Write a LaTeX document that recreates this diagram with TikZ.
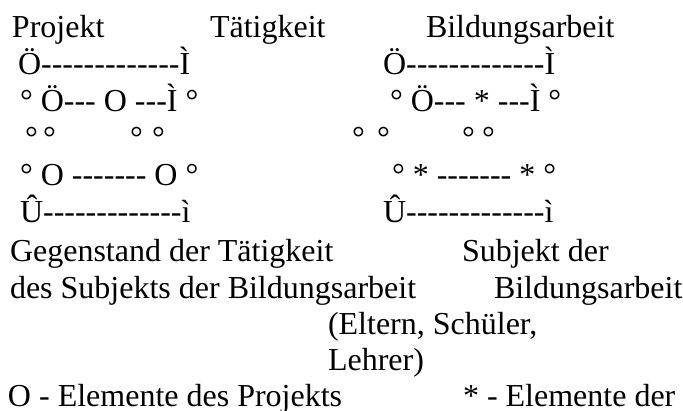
\documentclass[tikz,border=0pt]{standalone}
\usepackage{fontspec}
\setmainfont{Liberation Serif}
\usepackage{tikz}
\usetikzlibrary{positioning}

% Striche einzeln setzen (kein Gedankenstrich)
\newcommand{\striche}[1]{\foreach \s in {1,...,#1}{\mbox{-}}}

\begin{document}
\begin{tikzpicture}[x=1pt, y=-1pt,
    zeile/.style={anchor=base west, inner sep=0pt, outer sep=0pt},
    font=\fontsize{32}{37}\selectfont]
            % 1. Rahmen des Bildes
            \useasboundingbox (0,0) rectangle (683,410);

            % 2. Kopfzeile
            \node[zeile] (kopf-1) at (12,37) {Projekt};
            \node[zeile] (kopf-2) at (210,37) {Tätigkeit};
            \node[zeile] (kopf-3) at (426,37) {Bildungsarbeit};

            % 3. Linker Block (Projekt)
            \node[zeile] (l-1) at (18,74) {Ö\striche{13}Ì};
            \node[zeile] (l-2) at (20,111) {° Ö\striche{3} O \striche{3}Ì °};
            \node[zeile] (l-4) at (20,185) {° O \striche{7} O °};
            \node[zeile] (l-5) at (20,222) {Û\striche{13}ì};

            % 4. Rechter Block (Bildungsarbeit)
            \node[zeile] (r-1) at (383,74) {Ö\striche{13}Ì};
            \node[zeile] (r-2) at (390,111) {° Ö\striche{3} * \striche{3}Ì °};
            \node[zeile] (r-4) at (392,185) {° * \striche{7} * °};
            \node[zeile] (r-5) at (383,222) {Û\striche{13}ì};

            % 5. Kreise der mittleren Zeile
            \foreach \x [count=\i] in {25,43,130,152,352,377,462,482} {
                \node[zeile] (k-\i) at (\x,148) {°};
            }

            % 6. Beschriftung unten
            \node[zeile] (g-1) at (10,261) {Gegenstand der Tätigkeit};
            \node[zeile] (g-2) at (10,298) {des Subjekts der Bildungsarbeit};
            \node[zeile] (s-1) at (462,261) {Subjekt der};
            \node[zeile] (s-2) at (494,298) {Bildungsarbeit};
            \node[zeile] (s-3) at (328,334) {(Eltern, Schüler,};
            \node[zeile] (s-4) at (328,370) {Lehrer)};

            % 7. Legende
            \node[zeile] (leg-1) at (8,406) {O - Elemente des Projekts};
            \node[zeile] (leg-2) at (463,406) {* - Elemente der};
        \end{tikzpicture}
\end{document}
